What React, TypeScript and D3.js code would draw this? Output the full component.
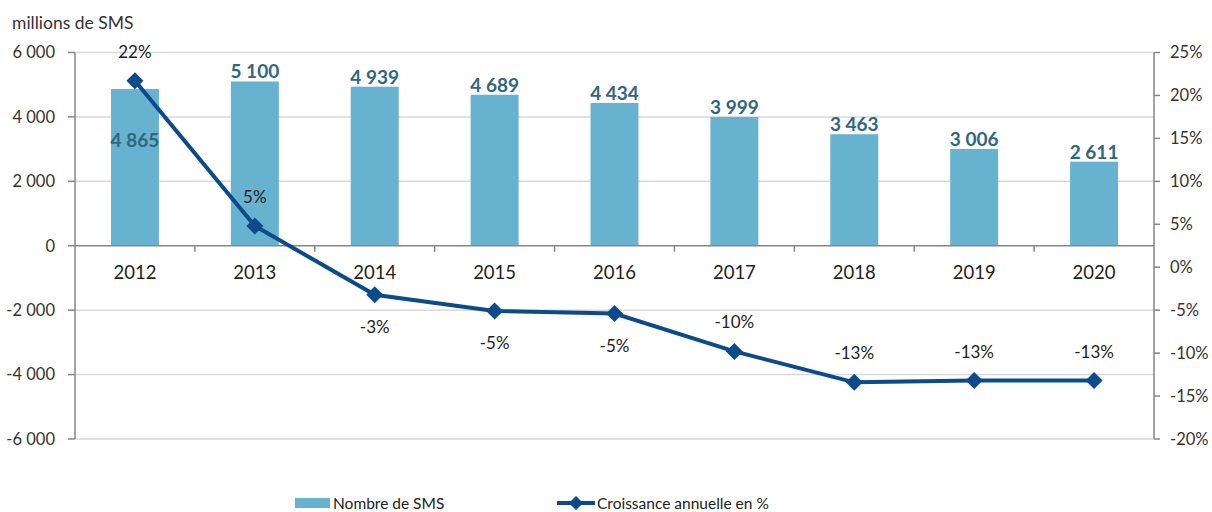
import React from "react";
import * as d3 from "d3";

const years = ["2012", "2013", "2014", "2015", "2016", "2017", "2018", "2019", "2020"];
const smsValues = [4865, 5100, 4939, 4689, 4434, 3999, 3463, 3006, 2611];
const growthValues = [21.7, 4.8, -3.2, -5.1, -5.4, -9.8, -13.4, -13.2, -13.2];
const growthLabels = ["22%", "5%", "-3%", "-5%", "-5%", "-10%", "-13%", "-13%", "-13%"];
const growthLabelAbove = [true, true, false, false, false, true, true, true, true];
const leftTicks = [-6000, -4000, -2000, 0, 2000, 4000, 6000];
const rightTicks = [-20, -15, -10, -5, 0, 5, 10, 15, 20, 25];

const W = 1212, H = 512;
const left = 75, right = 1154, top = 52.5, bottom = 439;
const FONT = "Lato, 'Open Sans', sans-serif";

const fmtNum = (v: number) => {
  const s = Math.abs(v).toString().replace(/\B(?=(\d{3})+(?!\d))/g, " ");
  return (v < 0 ? "-" : "") + s;
};

export default function App() {
  const x = d3.scaleBand<string>().domain(years).range([left, right]).paddingInner(0).paddingOuter(0);
  const yL = d3.scaleLinear().domain([-6000, 6000]).range([bottom, top]);
  const yR = d3.scaleLinear().domain([-20, 25]).range([bottom, top]);
  const bw = x.bandwidth() * 0.4;
  const cx = (y: string) => (x(y) as number) + x.bandwidth() / 2;
  const line = d3.line<number>().x((_, i) => cx(years[i])).y((d) => yR(d));

  return (
    <svg width={W} height={H} style={{ position: "absolute", left: 0, top: 0, fontFamily: FONT }}>
      <rect width={W} height={H} fill="#fff" />
      <text x={12} y={29} fontSize={17.5} fill="#333">millions de SMS</text>
      {leftTicks.map((t) => (
        <g key={t}>
          {t !== 0 && <line x1={left} x2={right} y1={yL(t)} y2={yL(t)} stroke="#d9d9d9" strokeWidth={1.5} />}
          <line x1={left - 7} x2={left} y1={yL(t)} y2={yL(t)} stroke="#868686" strokeWidth={1.5} />
          <text x={55} y={yL(t)} dy="0.35em" textAnchor="end" fontSize={16.5} fill="#333">{fmtNum(t)}</text>
        </g>
      ))}
      {smsValues.map((v, i) => (
        <rect key={i} x={cx(years[i]) - bw / 2} y={yL(v)} width={bw} height={yL(0) - yL(v)} fill="#67b3cf" />
      ))}
      <line x1={left} x2={left} y1={top} y2={bottom} stroke="#868686" strokeWidth={1.5} />
      <line x1={right} x2={right} y1={top} y2={bottom} stroke="#868686" strokeWidth={1.5} />
      <line x1={left} x2={right} y1={yL(0)} y2={yL(0)} stroke="#868686" strokeWidth={1.5} />
      {years.slice(1).map((y) => (
        <line key={y} x1={x(y) as number} x2={x(y) as number} y1={yL(0)} y2={yL(0) + 6} stroke="#868686" strokeWidth={1.5} />
      ))}
      {years.map((y) => (
        <text key={y} x={cx(y)} y={yL(0) + 33} textAnchor="middle" fontSize={18.5} fill="#222">{y}</text>
      ))}
      {rightTicks.map((t) => (
        <g key={t}>
          <line x1={right} x2={right + 6} y1={yR(t)} y2={yR(t)} stroke="#868686" strokeWidth={1.5} />
          <text x={1170} y={yR(t)} dy="0.35em" fontSize={16.5} fill="#333">{t}%</text>
        </g>
      ))}
      {smsValues.map((v, i) => (
        <text key={i} x={cx(years[i])} y={i === 0 ? yL(v) + 58 : yL(v) - 3} textAnchor="middle" fontSize={19} fontWeight="bold" fill="#2f6680">{fmtNum(v)}</text>
      ))}
      <path d={line(growthValues) || ""} fill="none" stroke="#0b4a8b" strokeWidth={4} />
      {growthValues.map((v, i) => (
        <rect key={i} x={-6} y={-6} width={12} height={12} fill="#0b4a8b"
          transform={`translate(${cx(years[i])},${yR(v)}) rotate(45)`} />
      ))}
      {growthValues.map((v, i) => (
        <text key={i} x={cx(years[i])} y={growthLabelAbove[i] ? yR(v) - 23 : yR(v) + 38} textAnchor="middle" fontSize={17} fill="#222">{growthLabels[i]}</text>
      ))}
      <rect x={295} y={498} width={35} height={10} fill="#67b3cf" />
      <text x={333} y={509} fontSize={15.5} fill="#222">Nombre de SMS</text>
      <line x1={557} x2={595} y1={503} y2={503} stroke="#0b4a8b" strokeWidth={4} />
      <rect x={-5} y={-5} width={10} height={10} fill="#0b4a8b" transform="translate(576,503) rotate(45)" />
      <text x={597} y={509} fontSize={15.5} fill="#222">Croissance annuelle en %</text>
    </svg>
  );
}
